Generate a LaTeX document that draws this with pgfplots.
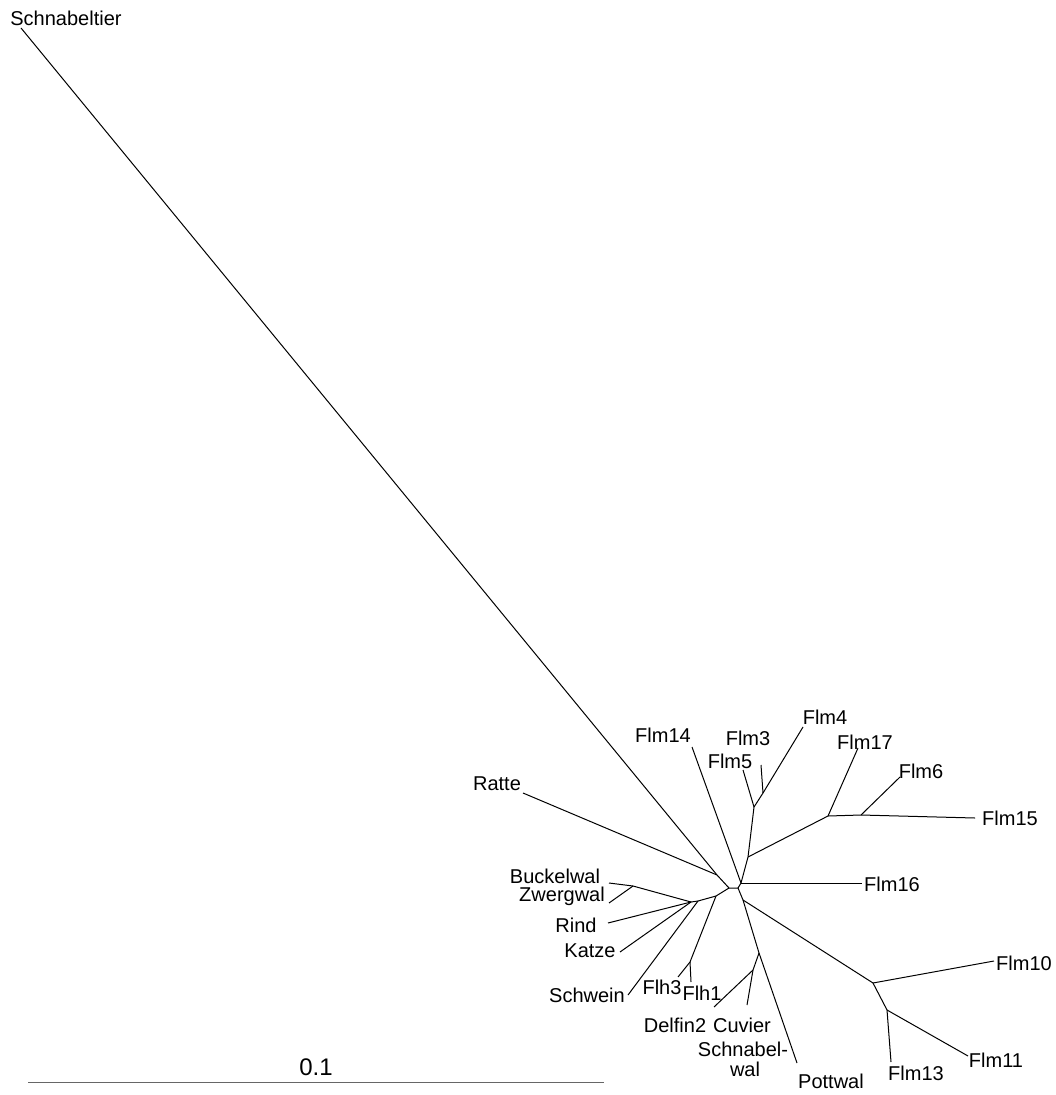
\documentclass[border=0pt]{standalone}
\usepackage{pgfplots}
\pgfplotsset{compat=1.18}
\usepackage{fontspec}
\setmainfont{Liberation Sans}
\tikzset{br/.style={black, line width=0.5pt, mark=none, solid}}
\begin{document}
\begin{tikzpicture}
\begin{axis}[
  scale only axis, width=527.5pt, height=547.5pt,
  xmin=0, xmax=1055, ymin=0, ymax=1095, y dir=reverse,
  hide axis, clip=false,
]
\path (axis cs:0,0) (axis cs:1055,1095);
% Schnabeltier & Ratte
\addplot[br] coordinates {(21,28) (717,875) (729,888)};
\addplot[br] coordinates {(523,793) (717,875)};
% centre
\addplot[br] coordinates {(729,888) (738,888) (741,883)};
\addplot[br] coordinates {(692,747) (741,883)};
\addplot[br] coordinates {(741,883) (862,883)};
\addplot[br] coordinates {(741,883) (748,857) (754,807)};
\addplot[br] coordinates {(754,807) (743,770)};
\addplot[br] coordinates {(754,807) (763,793)};
\addplot[br] coordinates {(763,793) (761,765)};
\addplot[br] coordinates {(763,793) (803,727)};
\addplot[br] coordinates {(748,857) (828,816)};
\addplot[br] coordinates {(828,816) (858,748)};
\addplot[br] coordinates {(828,816) (861,815) (975,818)};
\addplot[br] coordinates {(861,815) (900,777)};
% lower right
\addplot[br] coordinates {(738,888) (743,900)};
\addplot[br] coordinates {(743,900) (759,953) (797,1063)};
\addplot[br] coordinates {(759,953) (753,970)};
\addplot[br] coordinates {(753,970) (714,1007)};
\addplot[br] coordinates {(753,970) (747,1005)};
\addplot[br] coordinates {(743,900) (873,983)};
\addplot[br] coordinates {(873,983) (994,961)};
\addplot[br] coordinates {(873,983) (887,1010)};
\addplot[br] coordinates {(887,1010) (891,1062)};
\addplot[br] coordinates {(887,1010) (968,1056)};
% lower left
\addplot[br] coordinates {(729,888) (716,896)};
\addplot[br] coordinates {(716,896) (690,962)};
\addplot[br] coordinates {(690,962) (678,977)};
\addplot[br] coordinates {(690,962) (691,982)};
\addplot[br] coordinates {(716,896) (698,901)};
\addplot[br] coordinates {(698,901) (628,995)};
\addplot[br] coordinates {(698,901) (691,902)};
\addplot[br] coordinates {(691,902) (620,952)};
\addplot[br] coordinates {(691,902) (608,923)};
\addplot[br] coordinates {(691,902) (633,886)};
\addplot[br] coordinates {(633,886) (609,883)};
\addplot[br] coordinates {(633,886) (609,903)};
% scale bar
\addplot[br, gray!80!black] coordinates {(28,1082) (604,1082)};
% labels
\begin{scope}[every node/.style={font=\fontsize{10pt}{11pt}\selectfont, inner sep=0pt}]
\node at (axis cs:66,18) {Schnabeltier};
\node at (axis cs:497,784) {Ratte};
\node at (axis cs:663,735) {Flm14};
\node at (axis cs:748,738) {Flm3};
\node at (axis cs:730,761) {Flm5};
\node at (axis cs:825,717) {Flm4};
\node at (axis cs:865,742) {Flm17};
\node at (axis cs:921,771) {Flm6};
\node at (axis cs:1010,818) {Flm15};
\node at (axis cs:892,884) {Flm16};
\node at (axis cs:555,876) {Buckelwal};
\node at (axis cs:562,896) {Zwergwal};
\node at (axis cs:576,925) {Rind};
\node at (axis cs:590,951) {Katze};
\node at (axis cs:587,995) {Schwein};
\node at (axis cs:662,987) {Flh3};
\node at (axis cs:702,993) {Flh1};
\node at (axis cs:675,1025) {Delfin2};
\node at (axis cs:742,1025) {Cuvier};
\node at (axis cs:743,1049) {Schnabel-};
\node at (axis cs:745,1069) {wal};
\node at (axis cs:831,1081) {Pottwal};
\node at (axis cs:1024,963) {Flm10};
\node at (axis cs:996,1060) {Flm11};
\node at (axis cs:916,1073) {Flm13};
\node[font=\fontsize{12pt}{13pt}\selectfont] at (axis cs:316,1067) {0.1};
\end{scope}
\end{axis}
\end{tikzpicture}
\end{document}
